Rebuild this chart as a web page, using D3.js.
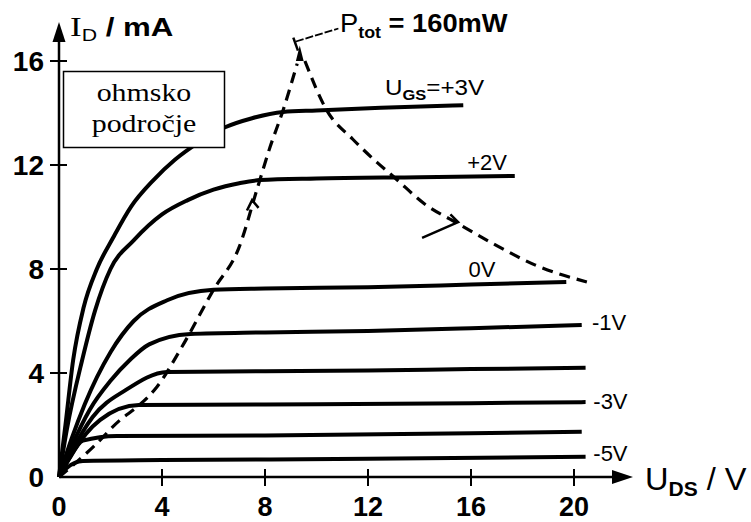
<!DOCTYPE html>
<html>
<head>
<meta charset="utf-8">
<script src="https://cdn.jsdelivr.net/npm/d3@7"></script>
<style>
  body { margin: 0; background: #fff; }
  svg { display: block; }
</style>
</head>
<body>
<div id="chart"></div>
<script>
// axis ticks
const xTicks = [0, 4, 8, 12, 16, 20];
const yTicks = [0, 4, 8, 12, 16];

// output characteristics, [U_DS in V, I_D in mA]
const ugsPlus3 = [[0,0],[0.25,2],[0.55,4.5],[0.95,6.5],[1.47,8],[2.1,9.2],[2.8,10.4],[3.65,11.4],[4.5,12.2],[5.4,12.85],[6.45,13.45],[7.5,13.8],[8.7,14.04],[10,14.1],[12.5,14.2],[15.7,14.3]];
const ugsPlus2 = [[0,0],[0.3,1.8],[0.9,4.5],[1.4,6.4],[2.0,8.0],[2.9,9.1],[4,10.1],[5,10.65],[6,11.05],[7,11.3],[7.8,11.42],[10,11.48],[14,11.53],[17.7,11.58]];
const ugs0 = [[0,0],[0.5,1.5],[1.0,2.8],[2.0,4.8],[2.9,6.0],[4.2,6.8],[6,7.2],[8,7.25],[12,7.3],[16,7.4],[19.7,7.5]];
const ugsMinus1 = [[0,0],[0.5,1.2],[1.2,2.6],[2,3.7],[2.75,4.5],[3.5,5.1],[5.1,5.5],[8,5.56],[12,5.62],[16,5.72],[20.3,5.85]];
const ugsMinus2 = [[0,0],[0.5,1.0],[1.3,2.3],[2.6,3.35],[4.2,4.04],[8,4.07],[12,4.1],[16,4.15],[20.45,4.2]];
const ugsMinus3 = [[0,0],[0.5,0.9],[1.6,2.2],[3.1,2.77],[8,2.79],[16,2.84],[20.45,2.88]];
const ugsMinus4 = [[0,0],[0.4,0.7],[0.93,1.4],[2.25,1.58],[8,1.6],[16,1.68],[20.3,1.74]];
const ugsMinus5 = [[0,0],[0.3,0.35],[0.93,0.62],[4,0.65],[12,0.7],[20.45,0.78]];

// dashed limits
const ohmicBoundary = [[0,0],[0.55,0.46],[1.32,1.15],[2.37,2.19],[3.1,2.75],[3.8,3.46],[4.77,5.0],[6.0,7.2],[7.0,8.85],[7.7,11.1],[8.2,12.7],[8.7,14.1],[9.25,15.9]];
const powerLimit = [[9.55,16.0],[10.4,14.1],[11.4,13.0],[12.35,12.1],[13.05,11.5],[14.2,10.5],[15.45,9.77],[17,8.9],[18.5,8.15],[20.5,7.5]];

const curves = [ugsPlus3, ugsPlus2, ugs0, ugsMinus1, ugsMinus2, ugsMinus3, ugsMinus4, ugsMinus5];

// curve labels: [text, U_DS, I_D] (left edge / baseline)
const curveLabels = [['+2V', 15.85, 11.8], ['0V', 15.9, 7.7], ['-1V', 20.7, 5.65], ['-3V', 20.75, 2.6], ['-5V', 20.75, 0.62]];

const W = 751, H = 522;

const svg = d3.select('#chart')
  .append('svg')
  .attr('width', W)
  .attr('height', H);

const x = d3.scaleLinear().domain([0, 20]).range([59, 574]);
const y = d3.scaleLinear().domain([0, 16]).range([477, 61]);

const sans = 'Liberation Sans, Arial, sans-serif';
const serif = 'Liberation Serif, Times New Roman, serif';

// axes lines with arrows
svg.append('line')
  .attr('x1', x(0)).attr('y1', y(0))
  .attr('x2', x(0)).attr('y2', 36)
  .attr('stroke', '#000').attr('stroke-width', 2.5);
svg.append('path')
  .attr('d', `M${x(0)},22 L${x(0) - 6.5},42 L${x(0) + 6.5},42 Z`)
  .attr('fill', '#000');

svg.append('line')
  .attr('x1', x(0)).attr('y1', y(0))
  .attr('x2', 620).attr('y2', y(0))
  .attr('stroke', '#000').attr('stroke-width', 2.5);
svg.append('path')
  .attr('d', `M633,${y(0)} L612,${y(0) - 7} L612,${y(0) + 7} Z`)
  .attr('fill', '#000');

// ticks crossing the axes
svg.append('g').selectAll('line')
  .data(xTicks.filter(d => d > 0))
  .join('line')
  .attr('x1', d => x(d)).attr('x2', d => x(d))
  .attr('y1', y(0) - 8).attr('y2', y(0) + 9)
  .attr('stroke', '#000').attr('stroke-width', 2);

svg.append('g').selectAll('line')
  .data(yTicks.filter(d => d > 0))
  .join('line')
  .attr('y1', d => y(d)).attr('y2', d => y(d))
  .attr('x1', x(0) - 9).attr('x2', x(0) + 8)
  .attr('stroke', '#000').attr('stroke-width', 2);

// tick labels
svg.append('g').selectAll('text')
  .data(xTicks)
  .join('text')
  .attr('x', d => x(d))
  .attr('y', 516)
  .attr('text-anchor', 'middle')
  .attr('font-family', sans).attr('font-weight', 'bold')
  .attr('font-size', 27)
  .text(d => d);

svg.append('g').selectAll('text')
  .data(yTicks)
  .join('text')
  .attr('x', 44)
  .attr('y', d => y(d) + 10)
  .attr('text-anchor', 'end')
  .attr('font-family', sans).attr('font-weight', 'bold')
  .attr('font-size', 28)
  .text(d => d);

// characteristic curves
const line = d3.line()
  .x(d => x(d[0]))
  .y(d => y(d[1]))
  .curve(d3.curveMonotoneX);

svg.append('g').selectAll('path')
  .data(curves)
  .join('path')
  .attr('d', line)
  .attr('fill', 'none')
  .attr('stroke', '#000')
  .attr('stroke-width', 4)
  .attr('stroke-linecap', 'butt');

// dashed limits
svg.append('g').selectAll('path')
  .data([ohmicBoundary, powerLimit])
  .join('path')
  .attr('d', line)
  .attr('fill', 'none')
  .attr('stroke', '#000')
  .attr('stroke-width', 3.2)
  .attr('stroke-dasharray', '11,7');

// small arrow marks on the dashed lines
svg.append('path')
  .attr('d', `M${x(9.2)},${y(16.0)} L${x(9.35)},${y(16.6)} L${x(9.5)},${y(16.0)} Z`)
  .attr('fill', '#000');
svg.append('path')
  .attr('d', `M${x(7.3)},${y(10.25)} L${x(7.5)},${y(10.65)} L${x(7.75)},${y(10.35)}`)
  .attr('fill', 'none').attr('stroke', '#000').attr('stroke-width', 2.5);
svg.append('path')
  .attr('d', `M${x(14.1)},${y(9.2)} L${x(15.5)},${y(9.8)} L${x(15.2)},${y(10.1)}`)
  .attr('fill', 'none').attr('stroke', '#000').attr('stroke-width', 2.5);

// leader to P_tot label
svg.append('path')
  .attr('d', `M${x(9.1)},${y(16.9)} L${x(9.28)},${y(16.4)}`)
  .attr('stroke', '#000').attr('stroke-width', 2.5);
svg.append('path')
  .attr('d', `M${x(9.2)},${y(16.75)} L${x(10.85)},${y(17.25)}`)
  .attr('stroke', '#000').attr('stroke-width', 1.8)
  .attr('stroke-dasharray', '8,2');

// helper for stretched text
function label(xp, yp, sx) {
  return svg.append('text')
    .attr('transform', `translate(${xp},${yp}) scale(${sx},1)`)
    .attr('font-family', sans)
    .attr('fill', '#000');
}

// axis titles
const yt = label(70, 36, 1.25).attr('font-size', 25);
yt.append('tspan').attr('font-family', serif).attr('font-size', 28).text('I');
yt.append('tspan').attr('font-size', 17).attr('dy', 5).text('D');
yt.append('tspan').attr('dy', -5).attr('font-weight', 'bold').text(' / mA');

const xt = label(645, 490, 1.05).attr('font-size', 31);
xt.append('tspan').text('U');
xt.append('tspan').attr('font-size', 20).attr('dy', 6).attr('font-weight', 'bold').text('DS');
xt.append('tspan').attr('dy', -6).text(' / V');

// P_tot label
const pt = label(340, 32, 1.05).attr('font-size', 26);
pt.append('tspan').text('P');
pt.append('tspan').attr('font-size', 17).attr('dy', 6).attr('font-weight', 'bold').text('tot');
pt.append('tspan').attr('dy', -6).attr('font-weight', 'bold').text(' = 160mW');

// U_GS=+3V label
const ug = label(385, 95, 1.1).attr('font-size', 22);
ug.append('tspan').text('U');
ug.append('tspan').attr('font-size', 15).attr('dy', 5).attr('font-weight', 'bold').text('GS');
ug.append('tspan').attr('dy', -5).text('=+3V');

svg.append('g').selectAll('text')
  .data(curveLabels)
  .join('text')
  .attr('x', d => x(d[1]))
  .attr('y', d => y(d[2]))
  .attr('font-family', sans)
  .attr('font-size', 22)
  .text(d => d[0]);

// ohmic region box
svg.append('rect')
  .attr('x', 63.5).attr('y', 71.5)
  .attr('width', 161).attr('height', 76)
  .attr('fill', '#fff')
  .attr('stroke', '#000').attr('stroke-width', 1.5);

['ohmsko', 'področje'].forEach((t, i) => {
  svg.append('text')
    .attr('transform', `translate(144,${101 + i * 31}) scale(1.15,1)`)
    .attr('text-anchor', 'middle')
    .attr('font-family', serif)
    .attr('font-size', 26)
    .text(t);
});
</script>
</body>
</html>
